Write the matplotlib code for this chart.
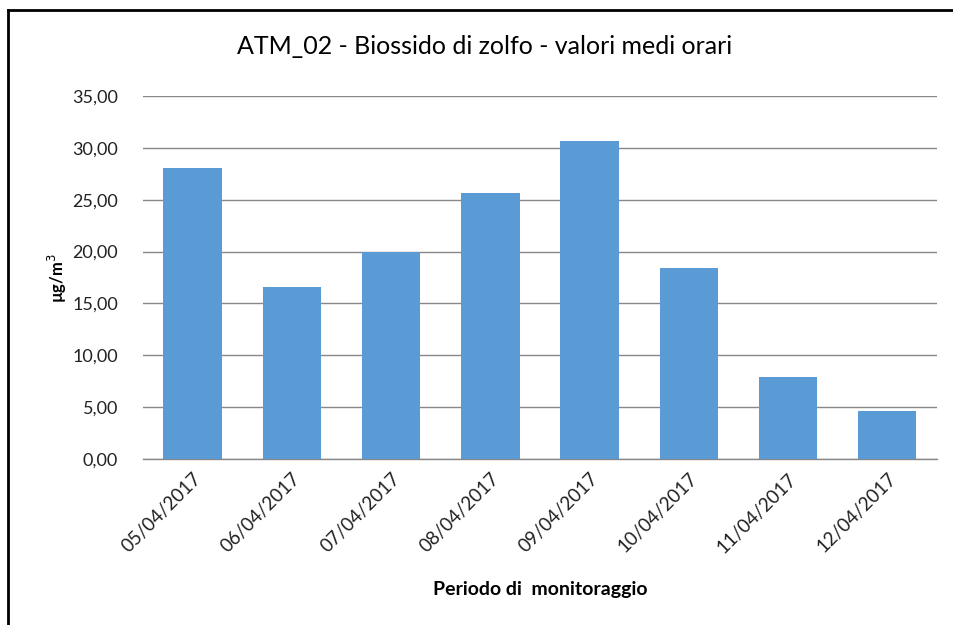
import matplotlib.pyplot as plt
from matplotlib.lines import Line2D
from matplotlib.ticker import FuncFormatter, MultipleLocator

plt.rcParams["font.family"] = ["Lato", "DejaVu Sans"]

# Data
dates = ["05/04/2017", "06/04/2017", "07/04/2017", "08/04/2017",
         "09/04/2017", "10/04/2017", "11/04/2017", "12/04/2017"]
so2_values = [28.1, 16.6, 20.0, 25.6, 30.7, 18.4, 7.9, 4.6]

BAR_COLOR = "#5b9bd5"
GRID_COLOR = "#888888"

fig = plt.figure(figsize=(9.54, 6.25), dpi=100)
ax = fig.add_axes([0.150, 0.2656, 0.832, 0.5808])

x = range(len(dates))
ax.bar(x, so2_values, width=0.59, color=BAR_COLOR, zorder=3)

ax.set_xlim(-0.5, len(dates) - 0.5)
ax.set_ylim(0, 35)
ax.yaxis.set_major_locator(MultipleLocator(5))
ax.yaxis.set_major_formatter(FuncFormatter(lambda v, _: f"{v:.2f}".replace(".", ",")))
ax.grid(True, axis="y", color=GRID_COLOR, linewidth=1.0, zorder=0)

for side in ("top", "right", "left"):
    ax.spines[side].set_visible(False)
ax.spines["bottom"].set_color(GRID_COLOR)
ax.spines["bottom"].set_linewidth(1.0)

ax.set_xticks(list(x))
ax.set_xticklabels(dates, rotation=45, ha="right", rotation_mode="anchor",
                   fontsize=13.5, color="#222222")
ax.tick_params(axis="x", length=0, pad=8)
ax.tick_params(axis="y", length=0, pad=18, labelsize=13, labelcolor="#222222")

ax.set_ylabel("µg/m$^3$", fontsize=12, fontweight="bold", labelpad=2)
ax.set_xlabel("Periodo di  monitoraggio", fontsize=14, fontweight="bold", labelpad=18)

fig.text(0.508, 0.925, "ATM_02 - Biossido di zolfo - valori medi orari",
         ha="center", va="center", fontsize=18)

# Frame around the chart area (left and top edges visible)
fig.add_artist(Line2D([0.008, 0.008], [0.0, 0.984], transform=fig.transFigure,
                      color="black", linewidth=2))
fig.add_artist(Line2D([0.008, 1.0], [0.984, 0.984], transform=fig.transFigure,
                      color="black", linewidth=2))

fig.savefig("out.png", dpi=100)
